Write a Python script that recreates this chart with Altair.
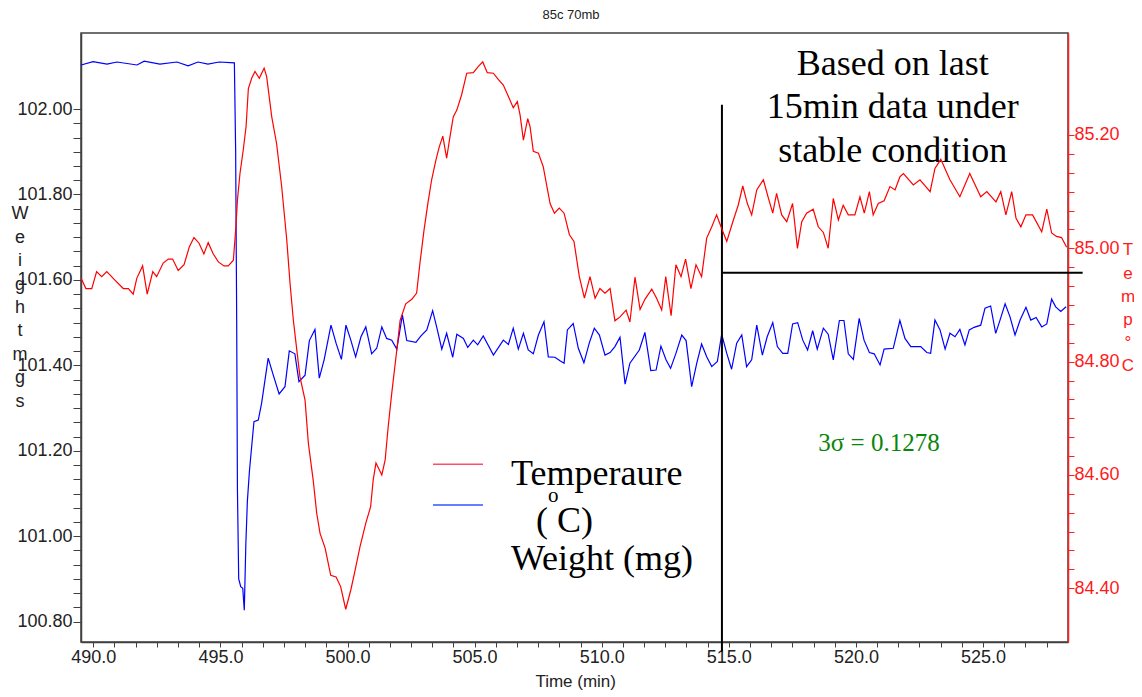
import altair as alt
import pandas as pd

# ---------------- data ----------------
W_T = [489.52, 489.99, 490.54, 490.93, 491.72, 492.00, 492.62, 493.29, 493.73, 494.12, 494.51, 494.95, 495.55,
       495.60, 495.64, 495.67, 495.72, 495.80, 495.88, 495.94, 496.00, 496.06, 496.14, 496.23, 496.32, 496.49, 496.62, 496.88,
       497.08, 497.31, 497.54, 497.71, 497.93, 498.09, 498.33, 498.50, 498.72, 498.89, 499.08, 499.35, 499.55, 499.76, 499.94,
       500.13, 500.32, 500.53, 500.72, 500.95, 501.15, 501.35,
       501.54, 501.74, 501.94, 502.16, 502.33, 502.69, 502.89, 503.12, 503.35, 503.53, 503.71, 503.90, 504.14, 504.30, 504.56,
       504.73, 504.95, 505.12, 505.34, 505.74,
       506.13, 506.33, 506.52, 506.72, 506.92, 507.11, 507.31, 507.51, 507.73, 507.90, 508.16, 508.36, 508.52,
       508.65, 508.88, 509.08, 509.30, 509.51, 509.71, 509.91, 510.13, 510.33, 510.52, 510.72, 510.92, 511.11, 511.48, 511.70,
       511.93, 512.14, 512.33, 512.53, 512.71,
       512.92, 513.15, 513.32, 513.54, 513.74, 513.93, 514.13, 514.33, 514.55, 514.72, 514.92, 515.11, 515.31, 515.51, 515.70,
       515.90, 516.10, 516.32, 516.51, 516.73,
       516.91, 517.12, 517.32, 517.51, 517.71, 517.91, 518.10, 518.30, 518.48, 518.72, 518.91, 519.11, 519.35, 519.53, 519.70,
       519.90, 520.13, 520.32, 520.53, 520.72,
       520.95, 521.11, 521.47, 521.73, 521.93, 522.16, 522.55, 522.79, 522.94, 523.11, 523.31, 523.51, 523.70, 523.90, 524.09,
       524.29, 524.46, 524.65, 524.91, 525.08,
       525.30, 525.50, 525.67, 525.87, 526.06, 526.26, 526.46, 526.69, 526.88, 527.09, 527.31, 527.51, 527.70, 527.86, 528.06,
       528.27]
W_V = [102.103, 102.111, 102.105, 102.110, 102.103, 102.112, 102.105, 102.110, 102.101, 102.110, 102.105, 102.110, 102.108,
       101.900, 101.510, 101.110, 100.900, 100.882, 100.878, 100.827, 100.980, 101.081, 101.151, 101.210, 101.268, 101.272,
       101.311, 101.417,
       101.377, 101.333, 101.350, 101.434, 101.427, 101.362, 101.377, 101.458, 101.484, 101.370, 101.413, 101.494, 101.452,
       101.414, 101.494, 101.459, 101.420, 101.467, 101.490, 101.427, 101.440, 101.490,
       101.463, 101.459, 101.438, 101.518, 101.458, 101.454, 101.469, 101.483, 101.528, 101.484, 101.438, 101.475, 101.419,
       101.473, 101.463, 101.442, 101.459, 101.448, 101.469, 101.424,
       101.459, 101.449, 101.487, 101.438, 101.475, 101.436, 101.427, 101.471, 101.502, 101.420, 101.419, 101.411, 101.405,
       101.483, 101.498, 101.440, 101.406, 101.452, 101.487, 101.471, 101.424, 101.430, 101.444, 101.466, 101.356, 101.405,
       101.436, 101.477, 101.388, 101.389, 101.445, 101.413, 101.393,
       101.428, 101.471, 101.458, 101.350, 101.405, 101.450, 101.420, 101.397, 101.409, 101.473, 101.428, 101.391, 101.452,
       101.471, 101.397, 101.413, 101.494, 101.424, 101.467, 101.500,
       101.444, 101.428, 101.428, 101.497, 101.500, 101.459, 101.436, 101.481, 101.438, 101.487, 101.473, 101.413, 101.505,
       101.505, 101.427, 101.414, 101.510, 101.459, 101.430, 101.427,
       101.401, 101.438, 101.440, 101.505, 101.463, 101.444, 101.444, 101.430, 101.428, 101.506, 101.483, 101.438, 101.475,
       101.467, 101.484, 101.448, 101.483, 101.489, 101.494, 101.534,
       101.539, 101.475, 101.506, 101.544, 101.514, 101.471, 101.506, 101.536, 101.506, 101.512, 101.490, 101.497, 101.555,
       101.537, 101.526, 101.537]

T_T = [489.52, 489.71, 489.94, 490.13, 490.33, 490.53, 490.85, 491.18, 491.38, 491.57, 491.71, 491.94, 492.12, 492.34,
       492.49, 492.75, 492.95, 493.12, 493.34, 493.57, 493.78, 493.96, 494.16, 494.35, 494.52, 494.72, 494.92, 495.14,
       495.31, 495.51,
       495.61, 495.67, 495.77, 495.90, 496.01, 496.10, 496.23, 496.36, 496.53, 496.72, 496.82, 497.02, 497.21, 497.41,
       497.61, 497.74, 497.87, 498.00, 498.13, 498.33, 498.46, 498.65, 498.79, 498.92, 499.12, 499.34, 499.55, 499.73, 499.93,
       500.13, 500.30, 500.49, 500.72, 500.91, 501.01, 501.12, 501.35, 501.48, 501.60, 501.74, 501.94, 502.07, 502.29,
       502.53, 502.72, 502.85, 503.01, 503.16, 503.31, 503.48, 503.61, 503.75, 503.90, 504.01, 504.16, 504.30, 504.49,
       504.69, 504.95,
       505.15, 505.32, 505.50, 505.74, 505.93, 506.13, 506.33, 506.52, 506.68, 506.79, 506.92, 507.09, 507.18, 507.31,
       507.51, 507.70, 507.97, 508.14, 508.33, 508.52, 508.73, 508.91, 509.12, 509.32, 509.54, 509.74, 509.93, 510.13,
       510.33, 510.52,
       510.72, 510.96, 511.11, 511.31, 511.51, 511.70, 511.97, 512.16, 512.36, 512.52, 512.73, 512.92, 513.12, 513.30,
       513.51, 513.71, 513.93, 514.13, 514.33, 514.52, 514.72, 514.92, 515.18, 515.37, 515.55, 515.73, 515.90, 516.10,
       516.36, 516.56,
       516.73, 516.88, 517.08, 517.28, 517.51, 517.70, 517.87, 518.06, 518.32, 518.52, 518.72, 518.91, 519.11, 519.31,
       519.50, 519.70, 519.96, 520.16, 520.33, 520.53, 520.68, 520.88, 521.11, 521.34, 521.54, 521.73, 521.87, 522.26,
       522.52, 522.92,
       523.11, 523.34, 523.70, 524.09, 524.48, 524.91, 525.15, 525.51, 525.70, 525.90, 526.13, 526.30, 526.49, 526.69,
       526.95, 527.31, 527.51, 527.70, 527.89, 528.09, 528.29]
T_V = [84.947, 84.929, 84.929, 84.959, 84.950, 84.959, 84.944, 84.929, 84.929, 84.919, 84.947, 84.969, 84.919, 84.959,
       84.950, 84.974, 84.981, 84.981, 84.961, 84.971, 85.003, 85.019, 85.009, 84.990, 85.010, 84.990, 84.976, 84.969,
       84.969, 84.979,
       85.038, 85.085, 85.132, 85.174, 85.215, 85.282, 85.300, 85.312, 85.300, 85.318, 85.303, 85.232, 85.185, 85.109,
       85.015, 84.938, 84.873, 84.823, 84.773, 84.732, 84.656, 84.591, 84.532, 84.497, 84.471, 84.423, 84.420, 84.403, 84.363,
       84.397, 84.432, 84.473, 84.515, 84.544, 84.591, 84.621, 84.600, 84.626, 84.685, 84.744, 84.821, 84.873, 84.902,
       84.910, 84.921, 84.974, 85.032, 85.079, 85.121, 85.156, 85.179, 85.198, 85.159, 85.191, 85.232, 85.244, 85.271,
       85.309, 85.310,
       85.321, 85.329, 85.310, 85.309, 85.298, 85.288, 85.268, 85.248, 85.259, 85.235, 85.191, 85.229, 85.215, 85.171,
       85.168, 85.144, 85.079, 85.062, 85.071, 85.062, 85.024, 85.012, 84.950, 84.912, 84.950, 84.912, 84.929, 84.921,
       84.929, 84.872,
       84.879, 84.891, 84.870, 84.949, 84.892, 84.910, 84.928, 84.912, 84.891, 84.950, 84.881, 84.971, 84.950, 84.981,
       84.929, 84.971, 84.950, 85.018, 85.038, 85.059, 85.035, 85.012, 85.050, 85.076, 85.110, 85.079, 85.059, 85.103,
       85.121, 85.088,
       85.062, 85.097, 85.059, 85.047, 85.079, 85.000, 85.047, 85.062, 85.069, 85.038, 85.028, 85.000, 85.088, 85.050,
       85.076, 85.059, 85.059, 85.091, 85.062, 85.100, 85.059, 85.079, 85.084, 85.109, 85.103, 85.126, 85.132, 85.112,
       85.121, 85.100,
       85.141, 85.157, 85.121, 85.091, 85.132, 85.091, 85.100, 85.082, 85.100, 85.059, 85.100, 85.053, 85.038, 85.059,
       85.059, 85.029, 85.069, 85.027, 85.021, 85.019, 85.002]

assert len(W_T) == len(W_V), (len(W_T), len(W_V))
assert len(T_T) == len(T_V), (len(T_T), len(T_V))

# axis domains and ticks
X_DOMAIN = [489.516, 528.344]
W_DOMAIN = [100.7525, 102.1779]
T_DOMAIN = [84.3052, 85.380]
X_TICKS = [round(490 + k * 5 / 6, 4) for k in range(46)]
W_TICKS = [round(100.8 + k * 0.2 / 6, 4) for k in range(37)]
T_TICKS = [round(84.4 + k * 0.2 / 6, 4) for k in range(25)]

# annotation lines (time / weight coordinates)
VLINE_TIME = [514.73]
VLINE_W = [102.01, 100.73]
HLINE_TIME = [514.73, 528.92]
HLINE_W = [101.617]

TITLE = "85c 70mb"
X_TITLE = "Time (min)"
Y_LEFT_TITLE = ["W", "e", "i", "g", "h", "t", " ", "m", "g", "s"]
Y_RIGHT_TITLE = ["T", "e", "m", "p", " ", "\u00b0", "C"]
NOTE_LINES = ["Based on last", "15min data under", "stable condition"]
SIGMA_TEXT = "3\u03c3 = 0.1278"
LEGEND_TEMP = "Temperaure"
LEGEND_WEIGHT = "Weight (mg)"

# ---------------- chart ----------------
W, H = 987, 609
SANS = "Liberation Sans"
SERIF = "Liberation Serif"
DARK = "#222222"
FRAME = "#404040"

wdf = pd.DataFrame({"time": W_T, "weight": W_V})
tdf = pd.DataFrame({"time": T_T, "temp": T_V})
one = pd.DataFrame({"a": [0]})

xs = alt.Scale(domain=X_DOMAIN, nice=False, zero=False)
ws = alt.Scale(domain=W_DOMAIN, nice=False, zero=False)
ts = alt.Scale(domain=T_DOMAIN, nice=False, zero=False)

x_axis = alt.Axis(values=X_TICKS, title=None, grid=False, tickSize=5, labelPadding=1, orient="bottom",
                  labelExpr="abs(datum.value/5 - round(datum.value/5)) < 0.01 ? format(datum.value, '.1f') : ''",
                  labelFont=SANS, labelFontSize=18, labelColor=DARK, domainColor=FRAME, tickColor=FRAME,
                  domainWidth=1.5, labelOverlap=False, labelFlush=False, labelBound=False)
w_axis = alt.Axis(values=W_TICKS, title=None, grid=False, tickSize=8, labelPadding=1, orient="left",
                  labelExpr="abs(datum.value*5 - round(datum.value*5)) < 0.01 ? format(datum.value, '.2f') : ''",
                  labelFont=SANS, labelFontSize=18, labelColor=DARK, domainColor=FRAME, tickColor=FRAME,
                  domainWidth=1.5, labelOverlap=False, labelFlush=False, labelBound=False)
t_axis = alt.Axis(values=T_TICKS, title=None, grid=False, tickSize=6, labelPadding=0, orient="right",
                  labelExpr="abs(datum.value*5 - round(datum.value*5)) < 0.01 ? format(datum.value, '.2f') : ''",
                  labelFont=SANS, labelFontSize=18, labelColor="#ff1a1a", domainColor="#ff2020",
                  tickColor="#ff2020", domainWidth=1.5, labelOverlap=False, labelFlush=False, labelBound=False)

weight_line = alt.Chart(wdf).mark_line(color="#0000ff", strokeWidth=1.2).encode(
    x=alt.X("time:Q", scale=xs, axis=x_axis),
    y=alt.Y("weight:Q", scale=ws, axis=w_axis),
)
temp_line = alt.Chart(tdf).mark_line(color="#ff0000", strokeWidth=1.2).encode(
    x=alt.X("time:Q", scale=xs, axis=x_axis),
    y=alt.Y("temp:Q", scale=ts, axis=t_axis),
)

vline = alt.Chart(pd.DataFrame({"time": VLINE_TIME, "w1": [VLINE_W[0]], "w2": [VLINE_W[1]]})).mark_rule(
    color="black", strokeWidth=2).encode(
    x=alt.X("time:Q", scale=xs, axis=x_axis),
    y=alt.Y("w1:Q", scale=ws, axis=w_axis),
    y2="w2:Q",
)
hline = alt.Chart(pd.DataFrame({"t1": [HLINE_TIME[0]], "t2": [HLINE_TIME[1]], "w": HLINE_W})).mark_rule(
    color="black", strokeWidth=2).encode(
    x=alt.X("t1:Q", scale=xs, axis=x_axis),
    x2="t2:Q",
    y=alt.Y("w:Q", scale=ws, axis=w_axis),
)


def txt(text, x, y, size, font=SANS, color=DARK, align="center", baseline="alphabetic", lh=None):
    kw = dict(text=text, font=font, fontSize=size, color=color, align=align, baseline=baseline)
    if lh is not None:
        kw["lineHeight"] = lh
    return alt.Chart(one).mark_text(**kw).encode(x=alt.value(x), y=alt.value(y))


texts = [
    txt(TITLE, 490, -18, 13, baseline="middle"),
    txt(X_TITLE, 494.7, 649, 17, baseline="middle"),
    txt(Y_LEFT_TITLE, -61, 186.4, 18, lh=23.4),
    txt(Y_RIGHT_TITLE, 1047, 222.4, 17, color="#ff1a1a", lh=23.2),
    txt(NOTE_LINES, 811.7, 42, 36, font=SERIF, color="black", lh=43.3),
    txt(SIGMA_TEXT, 798, 418, 25, font=SERIF, color="#0a860a"),
    txt(LEGEND_TEMP, 430, 452, 36, font=SERIF, color="black", align="left"),
    txt("(", 455, 498.7, 36, font=SERIF, color="black", align="left"),
    txt("o", 467, 469, 21, font=SERIF, color="black", align="left"),
    txt("C)", 476, 498.7, 36, font=SERIF, color="black", align="left"),
    txt(LEGEND_WEIGHT, 430, 537, 36, font=SERIF, color="black", align="left"),
]

leg_red = alt.Chart(one).mark_rule(color="#ff4d6d", strokeWidth=1.5).encode(
    x=alt.value(352), x2=alt.value(402), y=alt.value(431.3))
leg_blue = alt.Chart(one).mark_rule(color="#3355ff", strokeWidth=1.5).encode(
    x=alt.value(352), x2=alt.value(402), y=alt.value(472))

left_layer = alt.layer(weight_line, vline, hline, leg_red, leg_blue, *texts)

chart = alt.layer(left_layer, temp_line).resolve_scale(y="independent").properties(
    width=W, height=H,
    autosize=alt.AutoSizeParams(type="none"),
    padding={"left": 73, "top": 25, "right": 66, "bottom": 50},
).configure_view(stroke=FRAME, strokeWidth=1.5).configure_axis(grid=False)

chart.save("out.html", embed_options={"renderer": "svg", "actions": False})
